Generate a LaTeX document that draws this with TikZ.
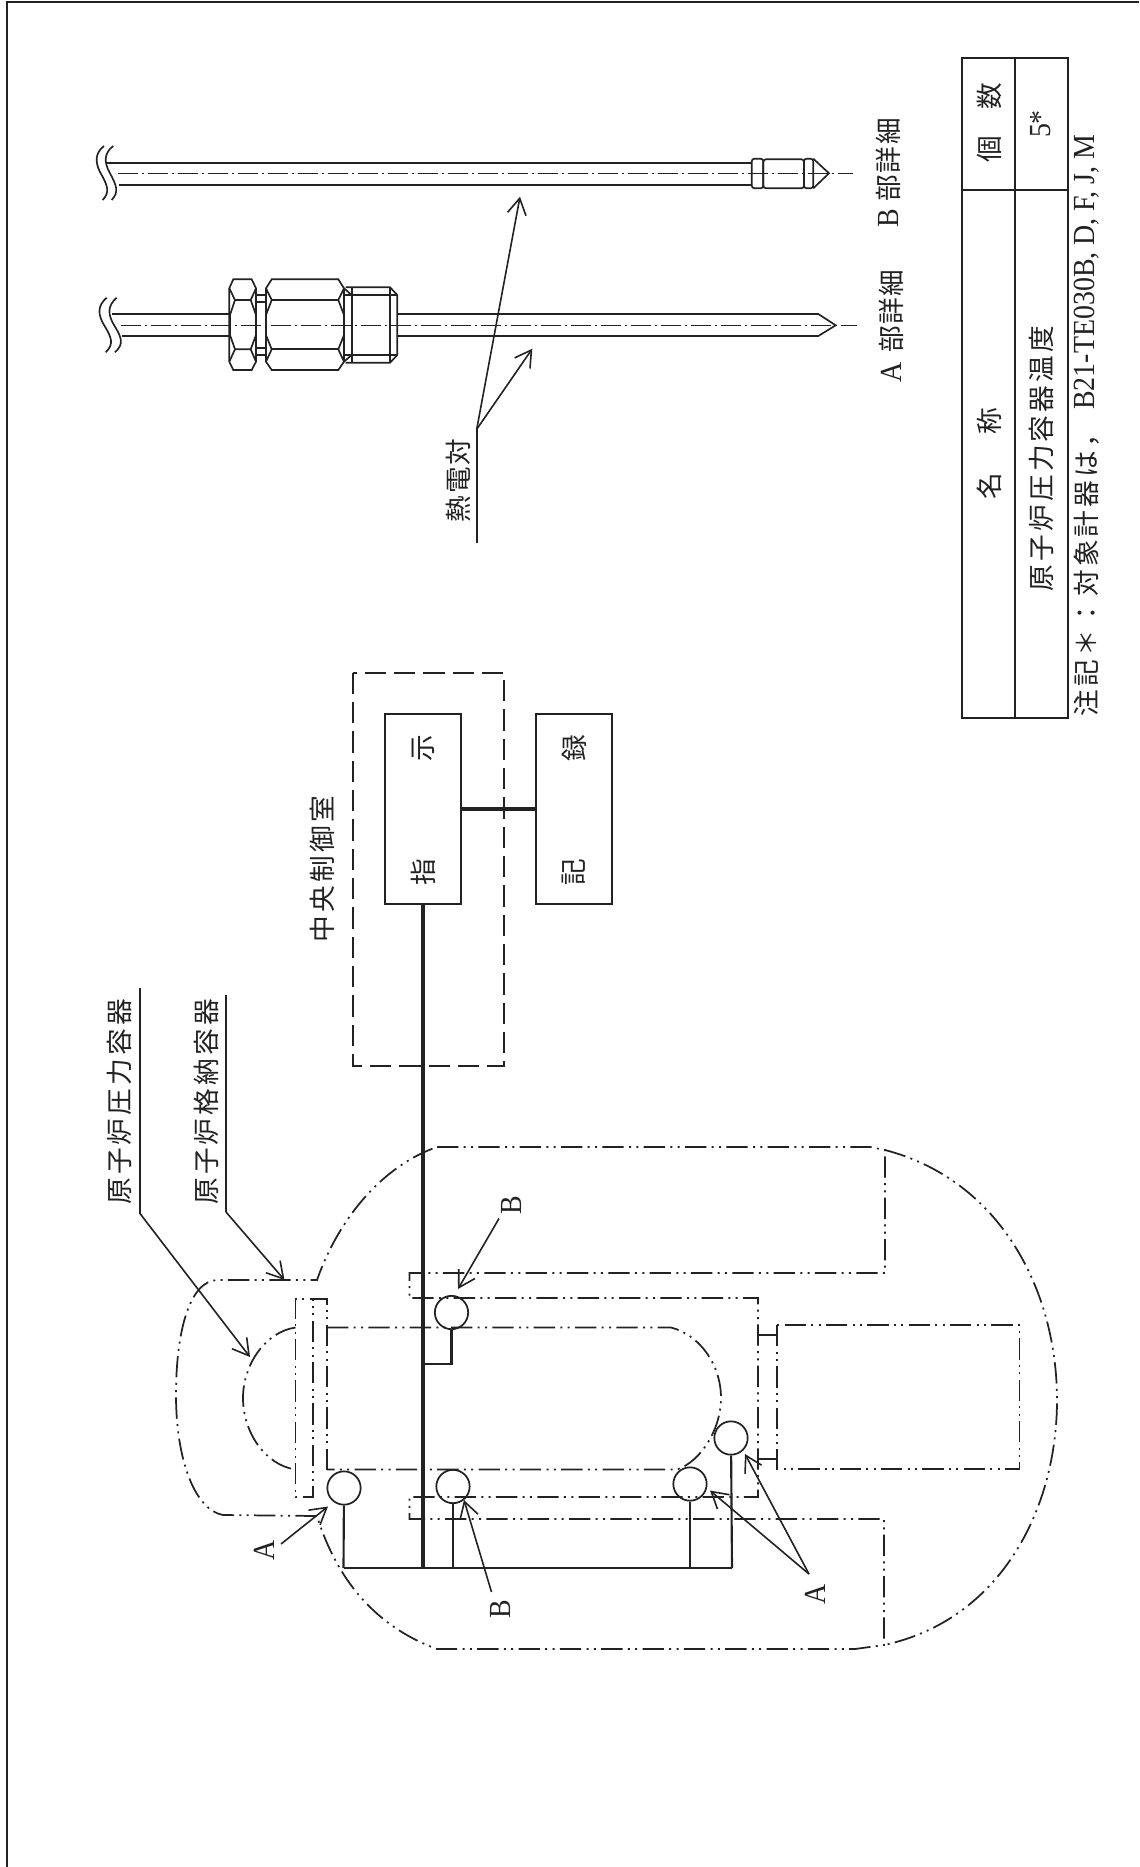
\documentclass[tikz,border=0pt]{standalone}
\usepackage{fontspec}
\usetikzlibrary{arrows.meta,positioning,calc}
\newfontfamily\jp[LetterSpace=12]{Noto Sans CJK JP}
\newfontfamily\jptight[LetterSpace=6]{Noto Sans CJK JP}
\newfontfamily\latn[FakeStretch=0.91]{Liberation Serif}
\definecolor{DwgInk}{HTML}{222222}

\begin{document}
\begin{tikzpicture}[
  x=0.75pt,y=-0.75pt,color=DwgInk,
  thin line/.style={line width=1.25pt},
  signal/.style={line width=2.9pt},
  leader/.style={line width=1.2pt,-{Straight Barb[length=12pt,width=14pt,line width=1.2pt]}},
  phantom/.style={line width=1.3pt,dash pattern=on 16pt off 4pt on 1.5pt off 4pt on 1.5pt off 4pt},
  axisline/.style={line width=1.1pt,dash pattern=on 15pt off 3pt on 1.5pt off 3pt},
  roomline/.style={line width=1.7pt,dash pattern=on 16pt off 6pt},
  box/.style={draw,line width=1.3pt,minimum width=57pt,minimum height=142pt,inner sep=0pt},
  sensor/.style={draw,circle,line width=1.3pt,minimum size=25pt,inner sep=0pt},
  stem/.style={line width=1.6pt},
  jplabel/.style={font=\jp\fontsize{20}{24}\selectfont,rotate=90,inner sep=0pt},
  jpshort/.style={font=\jptight\fontsize{20}{24}\selectfont,rotate=90,inner sep=0pt},
  letter/.style={font=\latn\fontsize{23}{26}\selectfont,rotate=90,inner sep=0pt},
]
\useasboundingbox (0,0) rectangle (1139,1867);
% sheet edge
\draw[line width=0.9pt] (7,1867) -- (7,2) -- (1139,2);

% containment vessel
\draw[phantom] (437,1147) -- (870,1147) -- (885,1150) -- (885,1273) -- (409.5,1273) -- (409.5,1298)
  -- (758,1298) -- (758,1497) -- (409.5,1497) -- (409.5,1519) -- (884,1519) -- (884,1645)
  -- (855,1649) -- (437,1649) .. controls (385,1630) and (340,1590) .. (317,1516)
  -- (223,1515) .. controls (195,1510) and (176,1460) .. (176,1395)
  .. controls (176,1330) and (190,1280) .. (218,1280) -- (317,1280)
  .. controls (340,1215) and (385,1165) .. (437,1147);
\draw[phantom] (885,1150) .. controls (1000,1180) and (1057,1290) .. (1057,1400)
  .. controls (1057,1510) and (1000,1620) .. (884,1645);
% pressure vessel and flange
\draw[phantom] (327,1470) -- (327,1299) -- (313,1299) -- (313,1497) -- (295.5,1497) -- (295.5,1299) -- (313,1299);
\draw[phantom] (327,1327.5) -- (671,1327.5) .. controls (700,1335) and (721,1365) .. (721,1398)
  .. controls (721,1430) and (700,1462) .. (677,1469.5) -- (327,1469.5);
\draw[phantom] (295.5,1327.5) .. controls (265,1332) and (243,1365) .. (243,1398)
  .. controls (243,1432) and (265,1465) .. (295.5,1469.5);
% pedestal
\draw[phantom] (777,1325) rectangle (1019.5,1469);
\draw[thin line] (758,1335) -- (777,1335) (758,1459) -- (777,1459);

% central control room
\node[box] (ind) at (423,809) {};
\node[jpshort,xshift=46pt] (indA) at (ind.center) {示};
\node[jpshort,xshift=-47pt] (indB) at (ind.center) {指};
\node[box,right=55pt of ind] (rec) {};
\node[jpshort,xshift=46pt] (recA) at (rec.center) {録};
\node[jpshort,xshift=-47pt] (recB) at (rec.center) {記};
\draw[roomline] (352.7,672.7) rectangle (504,1066);
\draw[signal] (ind) -- (rec);
\node[jplabel] (room) at (322,869) {中央制御室};

% thermocouples
\coordinate (busL) at (343.5,1568);
\coordinate (busR) at (732,1568);
\node[sensor] (ta) at (344,1488) {};
\node[sensor] (tb) at (453,1486.5) {};
\node[sensor] (tc) at (690,1484) {};
\node[sensor] (td) at (731,1438) {};
\node[sensor] (te) at (451.5,1312.5) {};
\coordinate (busB) at (453,1568);
\coordinate (busC) at (690,1568);
\coordinate (mainBus) at (423,1568);
\coordinate (teTee) at (423,1364);
\draw[signal] (ind.south) -- (mainBus);
\draw[stem] (busL) -- (busR);
\draw[stem] (ta) -- (busL);
\draw[stem] (tb) -- (busB);
\draw[stem] (tc) -- (busC);
\draw[stem] (td) -- (busR);
\draw[stem] (te) |- (teTee);

% callouts on the vessel
\node[letter] (la) at (264.5,1550) {A};
\node[letter] (lb) at (500,1609) {B};
\node[letter] (lc) at (511,1205) {B};
\node[letter] (ld) at (815.5,1594) {A};
\coordinate (laFrom) at (281,1544);
\coordinate (laTo) at (328,1506.5);
\coordinate (lbFrom) at (491.5,1592);
\coordinate (lbTo) at (464,1500);
\coordinate (lcFrom) at (499,1218.5);
\coordinate (lcTo) at (458,1289);
\coordinate (ldFrom) at (809,1574);
\coordinate (ldTo) at (710,1490.5);
\coordinate (leTo) at (745,1454);
\draw[leader] (laFrom) -- (laTo);
\draw[leader] (lbFrom) -- (lbTo);
\draw[leader] (lcFrom) -- (lcTo);
\draw[leader] (ldFrom) -- (ldTo);
\draw[leader] (ldFrom) -- (leTo);

% vessel names
\node[jplabel,anchor=west] (rpvName) at (119.5,1205) {原子炉圧力容器};
\node[jplabel,anchor=west] (pcvName) at (206.7,1205) {原子炉格納容器};
\coordinate (rpvA) at (140,988);
\coordinate (rpvB) at (140,1213.5);
\coordinate (rpvTo) at (250,1357);
\coordinate (pcvA) at (226,995);
\coordinate (pcvB) at (226,1212);
\coordinate (pcvTo) at (284.5,1280);
\draw[thin line] (rpvA) -- (rpvB);
\draw[leader] (rpvB) -- (rpvTo);
\draw[thin line] (pcvA) -- (pcvB);
\draw[leader] (pcvB) -- (pcvTo);

% detail A
\draw[axisline] (120.7,325.3) -- (857,325.3);
\draw[thin line] (112,314) -- (229.3,314) (122.3,336) -- (229.3,336);
\draw[thin line] (397.7,314) -- (818.3,314) -- (835.7,325.3) -- (818.3,336) -- (397.7,336);
\draw[thin line] (106.7,297.7) .. controls (97,306) and (98,315) .. (104,325) .. controls (112,338) and (114,344) .. (105.7,352.3);
\draw[thin line] (116.7,297.7) .. controls (107,306) and (108,315) .. (114,325) .. controls (122,338) and (124,344) .. (115,352.3);
% detail A fitting
\draw[thin line] (229.3,288.3) -- (233.3,279.3) -- (251.7,279.3) -- (256,288.3) -- (256,361.7) -- (251.7,370) -- (233.3,370) -- (229.3,361.7) -- cycle;
\draw[thin line] (229.3,288.3) -- (235,300) -- (250.7,300) -- (256,288.3);
\draw[thin line] (229.3,361.7) -- (235,349.3) -- (250.7,349.3) -- (256,361.7);
\draw[thin line] (235,300) -- (230,315) -- (230,335) -- (235,349.3) (250.7,300) -- (256,315) -- (256,335) -- (250.7,349.3);
\draw[thin line] (256,295) -- (266,295) (256,355) -- (266,355) (256,301.7) -- (266,301.7) (256,348.3) -- (266,348.3);
\draw[thin line] (266,288.3) -- (271.7,279.3) -- (338.3,279.3) -- (344,288.3) -- (344,361.7) -- (338.3,370) -- (271.7,370) -- (266,361.7) -- cycle;
\draw[thin line] (271.7,300) -- (338.3,300) (271.7,349.3) -- (338.3,349.3);
\draw[thin line] (266,315) -- (271.7,300) -- (266,288.3) (266,335) -- (271.7,349.3) -- (266,361.7);
\draw[thin line] (344,315) -- (338.3,300) -- (344,288.3) (344,335) -- (338.3,349.3) -- (344,361.7);
\draw[thin line] (344,288.3) -- (351.7,295) (344,361.7) -- (351.7,355);
\draw[thin line] (345.7,287.3) -- (390,287.3) -- (397.3,295) -- (397.3,355) -- (390,362.7) -- (345.7,362.7);
\draw[thin line] (351.7,287.3) -- (351.7,362.7) (390,287.3) -- (390,362.7);
\draw[thin line] (344,295) -- (397.3,295) (344,355) -- (397.3,355);

% detail B
\draw[axisline] (117.7,173.3) -- (853,173.3);
\draw[line width=1.5pt] (106.5,162.7) -- (751.7,162.7) (118.7,185) -- (751.7,185);
\draw[thin line] (104,146) .. controls (95,153) and (95,162) .. (100,172) .. controls (108,186) and (110,192) .. (102.7,200);
\draw[thin line] (113.3,146) .. controls (104,153) and (104,162) .. (109.3,172) .. controls (117,186) and (119,192) .. (111.7,200);
\draw[thin line,rounded corners=2pt] (751.7,158.7) rectangle (763.3,188.3);
\draw[thin line,rounded corners=2pt] (763.3,159.3) rectangle (804,188.3);
\draw[thin line,rounded corners=2pt] (804,158.7) rectangle (813.3,188.3);
\draw[thin line] (813.3,158.7) -- (829,173.3) -- (813.3,188.3);

% detail names
\node[jpshort] (tcName) at (458,480.5) {熱電対};
\coordinate (tcA) at (476.7,543.3);
\coordinate (tcB) at (476.7,429.3);
\coordinate (tcTo1) at (520,196.7);
\coordinate (tcTo2) at (532.3,348.7);
\draw[thin line] (tcA) -- (tcB);
\draw[leader] (tcB) -- (tcTo1);
\draw[leader] (tcB) -- (tcTo2);
\node[letter,anchor=west] (aMark) at (891,383) {A};
\node[jpshort,anchor=west] (aDetail) at (891,353) {部詳細};
\node[letter,anchor=west] (bMark) at (888,228) {B};
\node[jpshort,anchor=west] (bDetail) at (888,201.7) {部詳細};

% table
\draw[line width=1.5pt] (962,58) rectangle (1067.7,717.7);
\draw[line width=1.5pt] (1014.7,58) -- (1014.7,717.7) (962,190) -- (1067.7,190);
\node[jpshort] (hName) at (989.5,486) {名};
\node[jpshort] (hNameB) at (989.5,421.5) {称};
\node[jpshort] (hCount) at (989.5,149.5) {個};
\node[jpshort] (hCountB) at (989.5,96) {数};
\node[jplabel] (rowName) at (1041.5,458.5) {原子炉圧力容器温度};
\node[letter,font=\latn\fontsize{23}{26}\selectfont] (rowCount) at (1041,124) {5*};
\node[jplabel,anchor=west] (noteA) at (1086.5,716.5) {注記＊：対象計器は，};
\node[letter,anchor=west] (noteB) at (1086.5,410) {B21-TE030B, D, F, J, M};
\end{tikzpicture}
\end{document}
